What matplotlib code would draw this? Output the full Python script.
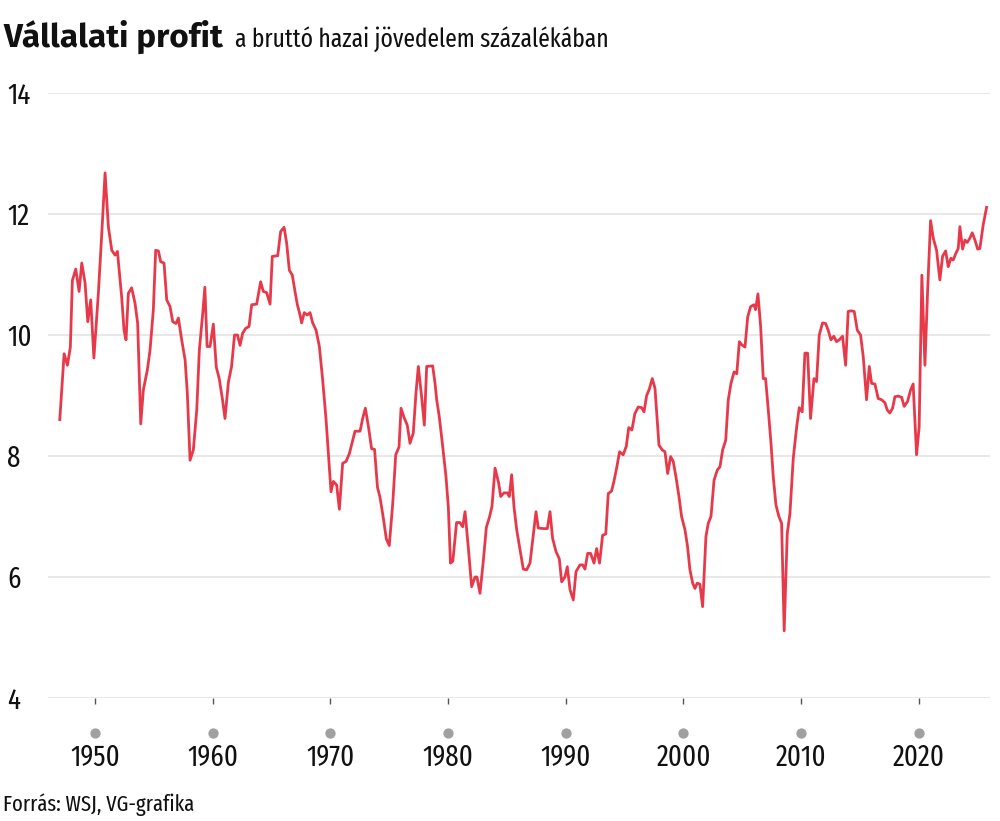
import matplotlib
matplotlib.use("Agg")
import matplotlib.pyplot as plt
from matplotlib import font_manager as fm
import matplotlib.transforms as mtransforms

# ---------------- data ----------------
years = [
    1947.0, 1947.37, 1947.65, 1947.9, 1948.07, 1948.36, 1948.64, 1948.87, 1949.15, 1949.38, 1949.63, 1949.9,
    1950.28, 1950.57, 1950.85, 1951.13, 1951.42, 1951.7, 1951.9, 1952.26, 1952.46, 1952.63, 1952.83,
    1953.11, 1953.4, 1953.62, 1953.88, 1954.1, 1954.44, 1954.67, 1954.95, 1955.15, 1955.38, 1955.58, 1955.86,
    1956.09, 1956.37, 1956.6, 1956.88, 1957.08, 1957.36, 1957.65, 1957.84, 1958.07, 1958.35, 1958.64, 1958.86,
    1959.15, 1959.33, 1959.52, 1959.77,
    1960.05, 1960.3, 1960.55, 1960.83, 1961.04, 1961.33, 1961.6, 1961.85, 1962.1, 1962.32, 1962.54, 1962.8,
    1963.08, 1963.31, 1963.73, 1964.07, 1964.3, 1964.58, 1964.87, 1965.06, 1965.52, 1965.77, 1966.06, 1966.28,
    1966.51, 1966.76, 1966.99, 1967.19, 1967.42, 1967.55, 1967.78, 1968.03, 1968.27, 1968.49, 1968.78,
    1969.06, 1969.34, 1969.63, 1969.91,
    1970.05, 1970.25, 1970.53, 1970.76, 1971.04, 1971.33, 1971.61, 1971.95, 1972.09, 1972.52, 1972.74, 1972.97,
    1973.25, 1973.5, 1973.75, 1974.0, 1974.21, 1974.5, 1974.75, 1975.0, 1975.29, 1975.55, 1975.83, 1976.0,
    1976.25, 1976.53, 1976.76, 1977.04, 1977.27, 1977.47, 1977.75, 1977.98, 1978.18, 1978.69, 1978.89,
    1979.03, 1979.25, 1979.54, 1979.82,
    1980.02, 1980.2, 1980.4, 1980.72, 1981.0, 1981.24, 1981.44, 1981.72, 1982.0, 1982.29, 1982.45, 1982.71,
    1983.0, 1983.25, 1983.53, 1983.73, 1983.99, 1984.3, 1984.47, 1984.75, 1985.03, 1985.2, 1985.4, 1985.6,
    1985.83, 1986.11, 1986.39, 1986.68, 1986.96, 1987.19, 1987.47, 1987.66, 1988.09, 1988.43, 1988.66,
    1988.88, 1989.17, 1989.45, 1989.65, 1989.93,
    1990.13, 1990.36, 1990.64, 1990.87, 1991.21, 1991.44, 1991.63, 1991.86, 1992.11, 1992.4, 1992.62, 1992.87,
    1993.13, 1993.4, 1993.61, 1993.89, 1994.09, 1994.32, 1994.57, 1994.88, 1995.14, 1995.35, 1995.62, 1995.87,
    1996.16, 1996.44, 1996.65, 1996.87, 1997.09, 1997.35, 1997.58, 1997.77, 1997.92, 1998.2, 1998.43, 1998.66,
    1998.91, 1999.13, 1999.36, 1999.62, 1999.84,
    2000.13, 2000.35, 2000.55, 2000.78, 2000.98, 2001.17, 2001.4, 2001.63, 2001.91, 2002.11, 2002.34, 2002.6,
    2002.88, 2003.1, 2003.33, 2003.59, 2003.81, 2004.04, 2004.3, 2004.53, 2004.75, 2004.95, 2005.23, 2005.46,
    2005.71, 2005.99, 2006.13, 2006.33, 2006.56, 2006.78, 2006.98, 2007.21, 2007.44, 2007.63, 2007.86,
    2008.11, 2008.34, 2008.56, 2008.82, 2009.05, 2009.33, 2009.62, 2009.84,
    2010.09, 2010.32, 2010.55, 2010.8, 2011.09, 2011.31, 2011.54, 2011.82, 2012.08, 2012.3, 2012.53, 2012.78,
    2013.01, 2013.24, 2013.52, 2013.78, 2014.0, 2014.23, 2014.51, 2014.77, 2015.05, 2015.28, 2015.56, 2015.79,
    2015.99, 2016.27, 2016.55, 2016.84, 2017.12, 2017.32, 2017.54, 2017.77, 2017.97, 2018.25, 2018.54,
    2018.76, 2019.04, 2019.3, 2019.52, 2019.81,
    2020.03, 2020.26, 2020.52, 2020.75, 2021.0, 2021.23, 2021.51, 2021.79, 2022.02, 2022.28, 2022.5, 2022.73,
    2022.92, 2023.15, 2023.35, 2023.49, 2023.72, 2023.92, 2024.11, 2024.34, 2024.54, 2024.77, 2025.0,
    2025.19, 2025.47, 2025.76,
]
profit = [
    8.60, 9.69, 9.50, 9.80, 10.90, 11.09, 10.72, 11.19, 10.86, 10.22, 10.58, 9.62,
    10.69, 11.68, 12.68, 11.79, 11.40, 11.32, 11.38, 10.63, 10.08, 9.92, 10.69,
    10.78, 10.52, 10.19, 8.53, 9.09, 9.42, 9.75, 10.41, 11.40, 11.39, 11.21, 11.19,
    10.58, 10.47, 10.22, 10.19, 10.28, 9.92, 9.59, 9.04, 7.93, 8.10, 8.76, 9.75,
    10.36, 10.79, 9.81, 9.81,
    10.18, 9.47, 9.28, 8.93, 8.62, 9.22, 9.48, 10.00, 10.00, 9.83, 10.03, 10.11,
    10.14, 10.50, 10.51, 10.88, 10.72, 10.70, 10.51, 11.30, 11.31, 11.71, 11.78, 11.52,
    11.07, 10.99, 10.72, 10.50, 10.33, 10.20, 10.37, 10.33, 10.37, 10.20, 10.08,
    9.81, 9.26, 8.60, 7.82,
    7.41, 7.58, 7.52, 7.12, 7.88, 7.91, 8.04, 8.30, 8.41, 8.41, 8.62, 8.79,
    8.46, 8.12, 8.11, 7.48, 7.32, 6.97, 6.63, 6.52, 7.20, 8.02, 8.15, 8.79,
    8.64, 8.51, 8.21, 8.38, 9.04, 9.48, 8.98, 8.51, 9.48, 9.49, 9.20,
    8.93, 8.65, 8.16, 7.66,
    7.16, 6.23, 6.26, 6.90, 6.90, 6.83, 7.08, 6.48, 5.84, 6.00, 6.00, 5.73,
    6.28, 6.82, 7.00, 7.17, 7.80, 7.55, 7.33, 7.39, 7.39, 7.33, 7.69, 7.16,
    6.78, 6.45, 6.13, 6.12, 6.23, 6.61, 7.08, 6.81, 6.80, 6.80, 7.08,
    6.64, 6.42, 6.30, 5.92, 6.00,
    6.17, 5.79, 5.62, 6.09, 6.20, 6.20, 6.13, 6.39, 6.39, 6.23, 6.47, 6.23,
    6.69, 6.71, 7.38, 7.42, 7.58, 7.80, 8.07, 8.02, 8.16, 8.47, 8.43, 8.70,
    8.81, 8.80, 8.73, 9.00, 9.10, 9.28, 9.12, 8.60, 8.18, 8.10, 8.07, 7.71,
    7.99, 7.91, 7.66, 7.33, 7.00,
    6.78, 6.50, 6.12, 5.90, 5.81, 5.90, 5.88, 5.51, 6.67, 6.89, 7.00, 7.60,
    7.77, 7.82, 8.10, 8.26, 8.93, 9.20, 9.39, 9.36, 9.89, 9.84, 9.80, 10.30,
    10.47, 10.50, 10.42, 10.68, 10.14, 9.28, 9.28, 8.76, 8.21, 7.66, 7.19,
    7.00, 6.89, 5.11, 6.72, 7.05, 7.96, 8.48, 8.80,
    8.73, 9.70, 9.70, 8.62, 9.28, 9.23, 10.00, 10.20, 10.19, 10.08, 9.92, 9.98,
    9.89, 9.92, 9.98, 9.50, 10.39, 10.40, 10.39, 10.08, 10.00, 9.64, 8.93, 9.48,
    9.20, 9.19, 8.95, 8.93, 8.88, 8.76, 8.71, 8.79, 8.98, 8.99, 8.97,
    8.82, 8.90, 9.09, 9.19, 8.02,
    8.48, 10.99, 9.50, 10.74, 11.89, 11.60, 11.40, 10.91, 11.30, 11.39, 11.13, 11.27,
    11.24, 11.35, 11.43, 11.79, 11.42, 11.57, 11.53, 11.60, 11.69, 11.57, 11.42,
    11.43, 11.82, 12.11,
]
xtick_years = [1950, 1960, 1970, 1980, 1990, 2000, 2010, 2020]
ytick_values = [4, 6, 8, 10, 12, 14]
title_text = "Vállalati profit"
subtitle_text = "a bruttó hazai jövedelem százalékában"
source_text = "Forrás: WSJ, VG-grafika"

# ---------------- fonts ----------------
names = {f.name for f in fm.fontManager.ttflist}
cond = "DejaVu Sans"
for cand in ["Fira Sans Extra Condensed", "Fira Sans Condensed", "PT Sans Narrow", "Archivo Narrow"]:
    if cand in names:
        cond = cand
        break
bold_font = "Open Sans"
for cand in ["Fira Sans", "Open Sans"]:
    if cand in names:
        bold_font = cand
        break

W, H = 1000, 821
fig = plt.figure(figsize=(W / 100, H / 100), dpi=100)
fig.patch.set_facecolor("white")
renderer = fig.canvas.get_renderer()

def fit_width(t, target):
    bb = t.get_window_extent(renderer)
    t.set_fontsize(t.get_fontsize() * target / bb.width)
    return t.get_fontsize()

# size of tick labels from the width of "1950"
probe = fig.text(0, 0, "1950", fontsize=20, family=cond)
tick_fs = fit_width(probe, 50)
probe.remove()

ax_left, ax_right, ax_top, ax_bot = 48, 990, 93, 698
ax = fig.add_axes([ax_left / W, 1 - ax_bot / H, (ax_right - ax_left) / W, (ax_bot - ax_top) / H])
ax.plot(years, profit, color="#e63a4b", lw=2.0, solid_joinstyle="round", zorder=3)
ax.set_xlim(1946.0, 2026.05)
ax.set_ylim(4, 14)
for s in ax.spines.values():
    s.set_visible(False)
ax.set_yticks(ytick_values)
ax.set_yticklabels([str(v) for v in ytick_values], family=cond)
ax.grid(axis="y", color="#e6e6e6", lw=1.3, zorder=0)
ax.tick_params(axis="y", length=0, pad=(ax_left - 7) * 0.72, labelsize=tick_fs,
               labelcolor="#111111")
for lab in ax.get_yticklabels():
    lab.set_horizontalalignment("left")

ax.set_xticks(xtick_years)
ax.set_xticklabels([str(y) for y in xtick_years], family=cond)
ax.tick_params(axis="x", length=6 * 0.72, width=1.0, color="#555555", direction="out",
               pad=(745 - 706) * 0.72, labelsize=tick_fs, labelcolor="#111111")

trans = mtransforms.blended_transform_factory(ax.transData, ax.transAxes)
dot_y = -(733 - ax_bot) / (ax_bot - ax_top)
ax.scatter(xtick_years, [dot_y] * len(xtick_years), transform=trans, s=55,
           color="#a0a0a0", clip_on=False, zorder=2, linewidths=0)

# ---------------- title / subtitle / source ----------------
title = fig.text(3 / W, 1 - 47 / H, title_text, fontsize=24, fontweight="bold",
                 family=bold_font, va="baseline", ha="left", color="#111111")
fit_width(title, 220)
tb = title.get_window_extent(renderer)
sub = fig.text((tb.x1 + 12) / W, 1 - 47 / H, subtitle_text, fontsize=20, family=cond,
               va="baseline", ha="left", color="#111111")
fit_width(sub, 374)
src = fig.text(3 / W, 1 - 811 / H, source_text, fontsize=15, family=cond,
               va="baseline", ha="left", color="#111111")
fit_width(src, 192)

fig.savefig("out.png", dpi=100, facecolor="white")
